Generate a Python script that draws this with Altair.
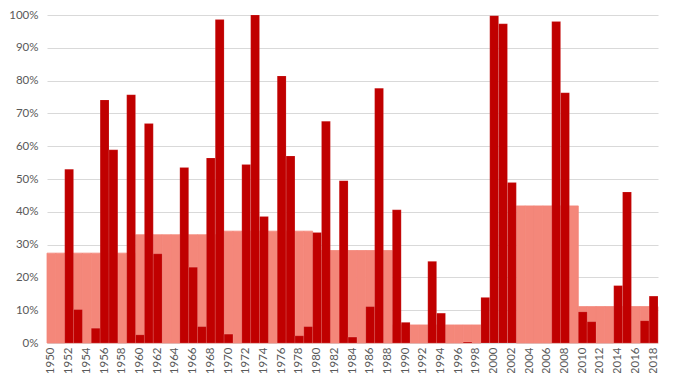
import altair as alt
import pandas as pd

years = list(range(1950, 2019))

# annual values (%)
annual = [0, 0, 53.0, 10.2, 0, 4.5, 74.1, 58.9, 0, 75.7,
          2.5, 66.9, 27.2, 0, 0, 53.5, 23.1, 5.0, 56.4, 98.6,
          2.7, 0, 54.4, 100, 38.6, 0, 81.4, 57.0, 2.2, 5.0,
          33.7, 67.6, 0, 49.5, 1.8, 0, 11.1, 77.7, 0, 40.6,
          6.3, 0, 0, 24.9, 9.1, 0, 0, 0.3, 0, 13.9,
          99.8, 97.3, 48.9, 0, 0, 0, 0, 98.0, 76.3, 0,
          9.5, 6.5, 0, 0, 17.5, 46.0, 0, 6.8, 14.3]

# period averages (%)
period_start = [1950, 1960, 1970, 1980, 1989, 2003, 2010]
period_end = [1959, 1969, 1979, 1988, 1998, 2009, 2018]
period_value = [27.4, 33.0, 34.1, 28.2, 5.5, 41.8, 11.1]

period_by_year = []
for y in years:
    v = None
    for s, e, pv in zip(period_start, period_end, period_value):
        if s <= y <= e:
            v = pv / 100
    period_by_year.append(v)

df = pd.DataFrame({
    "year": years,
    "annual": [a / 100 for a in annual],
    "period": period_by_year,
})

even_years = [y for y in years if y % 2 == 0]
FONT = "Lato"

x_enc = alt.X(
    "year:O",
    scale=alt.Scale(paddingInner=0, paddingOuter=0),
    axis=alt.Axis(values=even_years, labelAngle=-90, title=None, ticks=False,
                  domain=False, grid=False, labelFont=FONT, labelFontSize=11.5,
                  labelColor="#595959", labelPadding=4),
)

y_axis = alt.Axis(format="%", values=[i / 10 for i in range(11)], title=None,
                  ticks=False, domain=False, grid=True, gridColor="#d9d9d9",
                  gridWidth=1, labelFont=FONT, labelFontSize=11.5,
                  labelColor="#595959", labelPadding=9)

base = alt.Chart(df)

salmon = base.transform_filter("isValid(datum.period)").mark_bar(
    color="#F4877A", stroke="#F4877A", strokeWidth=0.8
).encode(
    x=x_enc,
    y=alt.Y("period:Q", scale=alt.Scale(domain=[0, 1], nice=False), axis=y_axis),
)

dark = base.transform_filter("datum.annual > 0").mark_bar(
    color="#C00000", stroke="#ffffff", strokeWidth=0.3, strokeOpacity=0.4
).encode(
    x=x_enc,
    y=alt.Y("annual:Q", scale=alt.Scale(domain=[0, 1], nice=False), axis=y_axis),
)

chart = alt.layer(salmon, dark).properties(
    width=611, height=328,
    autosize=alt.AutoSizeParams(type="none"),
    padding={"left": 39, "top": 7, "right": 7, "bottom": 30},
).configure_view(stroke=None)

chart.save("out.html", embed_options={"renderer": "svg", "actions": False})
